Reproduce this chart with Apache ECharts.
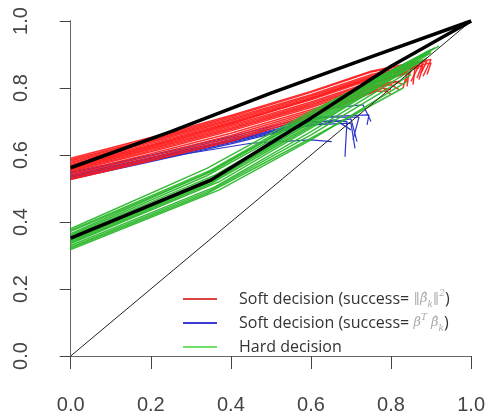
<!DOCTYPE html>
<html><head><meta charset="utf-8">
<script src="https://cdn.jsdelivr.net/npm/echarts@6/dist/echarts.min.js"></script>
<style>html,body{margin:0;padding:0;background:#fff}#c{width:488px;height:418px}</style>
</head><body><div id="c"></div>
<script>
const tickLabels = ['0.0', '0.2', '0.4', '0.6', '0.8', '1.0'];
const legendNames = [
  'Soft decision (success= ‖β̂ₖ‖²)',
  'Soft decision (success= βᵀβ̂ₖ)',
  'Hard decision'
];

// Soft decision (success = ||beta_k||^2) : red curves [x, y]
const redLines = [
  [[0,0.59],[0.2,0.652],[0.4,0.718],[0.6,0.79],[0.75,0.85],[0.85,0.875],[0.9,0.885],[0.88,0.835]],
  [[0,0.586],[0.2,0.648],[0.4,0.714],[0.6,0.787],[0.75,0.848],[0.89,0.88],[0.875,0.845]],
  [[0,0.582],[0.2,0.645],[0.4,0.71],[0.6,0.78],[0.75,0.84],[0.88,0.875],[0.865,0.83]],
  [[0,0.578],[0.2,0.642],[0.4,0.706],[0.6,0.776],[0.75,0.836],[0.9,0.875],[0.89,0.84]],
  [[0,0.575],[0.2,0.638],[0.4,0.702],[0.6,0.772],[0.75,0.832],[0.87,0.868],[0.85,0.82]],
  [[0,0.571],[0.2,0.634],[0.4,0.698],[0.6,0.769],[0.75,0.829],[0.88,0.866],[0.87,0.825]],
  [[0,0.568],[0.2,0.63],[0.4,0.695],[0.6,0.765],[0.75,0.825],[0.86,0.862],[0.855,0.81]],
  [[0,0.565],[0.2,0.627],[0.4,0.692],[0.6,0.768],[0.8,0.85],[0.87,0.86]],
  [[0,0.562],[0.2,0.624],[0.4,0.688],[0.6,0.758],[0.75,0.818],[0.85,0.852],[0.835,0.815]],
  [[0,0.559],[0.2,0.62],[0.4,0.684],[0.6,0.754],[0.75,0.814],[0.845,0.848],[0.84,0.805]],
  [[0,0.556],[0.2,0.617],[0.4,0.68],[0.6,0.75],[0.75,0.81],[0.84,0.845],[0.83,0.8]],
  [[0,0.553],[0.2,0.613],[0.4,0.676],[0.6,0.746],[0.73,0.8],[0.81,0.82],[0.83,0.81]],
  [[0,0.55],[0.2,0.61],[0.4,0.672],[0.6,0.742],[0.72,0.79],[0.8,0.81],[0.82,0.795]],
  [[0,0.545],[0.2,0.604],[0.4,0.665],[0.6,0.735],[0.7,0.775],[0.78,0.8],[0.8,0.78]],
  [[0,0.54],[0.2,0.598],[0.4,0.658],[0.6,0.73],[0.7,0.77],[0.76,0.79],[0.79,0.79]],
  [[0,0.535],[0.2,0.592],[0.4,0.652],[0.6,0.725],[0.75,0.8],[0.82,0.82]],
  [[0,0.53],[0.2,0.587],[0.4,0.646],[0.6,0.72],[0.7,0.765],[0.76,0.79]],
  [[0,0.527],[0.2,0.583],[0.4,0.641],[0.6,0.715],[0.7,0.76],[0.78,0.8],[0.8,0.795]]
];

// Soft decision (success = beta^T beta_k) : blue curves [x, y]
const blueLines = [
  [[0,0.548],[0.2,0.6],[0.4,0.655],[0.55,0.7],[0.65,0.74],[0.73,0.75],[0.75,0.7]],
  [[0,0.545],[0.2,0.597],[0.4,0.65],[0.55,0.693],[0.62,0.713],[0.72,0.713],[0.705,0.645]],
  [[0,0.54],[0.2,0.592],[0.4,0.645],[0.55,0.688],[0.6,0.7],[0.69,0.7],[0.685,0.595]],
  [[0,0.537],[0.2,0.59],[0.4,0.642],[0.55,0.685],[0.64,0.715],[0.745,0.72],[0.74,0.69]],
  [[0,0.535],[0.2,0.587],[0.4,0.64],[0.57,0.69],[0.66,0.705],[0.7,0.675]],
  [[0,0.533],[0.27,0.6],[0.45,0.635],[0.6,0.645],[0.652,0.64]],
  [[0,0.53],[0.2,0.583],[0.4,0.637],[0.55,0.68],[0.6,0.69],[0.7,0.695],[0.71,0.62]],
  [[0,0.528],[0.2,0.58],[0.4,0.633],[0.56,0.68],[0.7,0.708],[0.715,0.64]]
];

// Hard decision : green curves [x, y]
const greenLines = [
  [[0,0.38],[0.34,0.56],[0.6,0.73],[0.92,0.925]],
  [[0,0.375],[0.35,0.555],[0.6,0.725],[0.91,0.92]],
  [[0,0.372],[0.35,0.55],[0.6,0.72],[0.9,0.915]],
  [[0,0.365],[0.33,0.54],[0.6,0.715],[0.91,0.92]],
  [[0,0.361],[0.34,0.538],[0.6,0.71],[0.895,0.905]],
  [[0,0.358],[0.36,0.54],[0.6,0.705],[0.88,0.9]],
  [[0,0.35],[0.35,0.53],[0.6,0.695],[0.9,0.905]],
  [[0,0.345],[0.36,0.525],[0.6,0.7],[0.9,0.91]],
  [[0,0.343],[0.34,0.515],[0.6,0.69],[0.87,0.88]],
  [[0,0.339],[0.35,0.515],[0.6,0.685],[0.88,0.885]],
  [[0,0.336],[0.37,0.52],[0.6,0.68],[0.89,0.89]],
  [[0,0.33],[0.36,0.505],[0.6,0.67],[0.86,0.86]],
  [[0,0.325],[0.35,0.495],[0.6,0.66],[0.85,0.84]],
  [[0,0.322],[0.34,0.485],[0.6,0.65],[0.83,0.8]],
  [[0,0.318],[0.37,0.495],[0.6,0.645],[0.84,0.82]]
];

// Thick black reference curves and thin diagonal [x, y]
const upperBlack = [[0,0.562],[0.25,0.67],[0.5,0.785],[0.75,0.893],[1,1]];
const lowerBlack = [[0,0.352],[0.35,0.525],[0.6,0.71],[0.8,0.865],[1,1]];
const diagonal = [[0,0],[1,1]];

const chart = echarts.init(document.getElementById('c'), null, {renderer: 'canvas'});

function bundle(lines, name, color, width, opacity) {
  return lines.map(d => ({
    type: 'line', name: name, data: d, symbol: 'none', showSymbol: false,
    silent: true, animation: false,
    lineStyle: {color: color, width: width, opacity: opacity},
    itemStyle: {color: color}
  }));
}

const series = [].concat(
  bundle(blueLines, legendNames[1], '#2b35c8', 1.2, 1),
  bundle(redLines, legendNames[0], '#ff1a1a', 1.5, 0.9),
  bundle(greenLines, legendNames[2], '#2eb82e', 1.5, 0.95),
  bundle([diagonal], 'diag', '#222', 1, 1),
  bundle([upperBlack, lowerBlack], 'black', '#000', 3.5, 1)
);

const axisColor = '#444';
function fmtTick(v) {
  const i = Math.round(v / 0.2);
  return tickLabels[i] !== undefined ? tickLabels[i] : '';
}

function legendFmt(name) {
  if (name === legendNames[0]) return 'Soft decision (success= {m|‖β̂}{s|k}{m|‖}{sup|2}{t|)}';
  if (name === legendNames[1]) return 'Soft decision (success= {m|β}{sup|T}{m| β̂}{s|k}{t|)}';
  return name;
}

chart.setOption({
  animation: false,
  grid: {left: 70.7, right: 15, top: 21, bottom: 62},
  legend: {
    show: true,
    orient: 'vertical',
    left: 183, top: 289,
    padding: 0,
    icon: 'rect',
    itemWidth: 34, itemHeight: 2,
    itemGap: 4,
    selectedMode: false,
    formatter: legendFmt,
    data: [
      {name: legendNames[0], itemStyle: {color: '#d94444'}},
      {name: legendNames[1], itemStyle: {color: '#3a3ad0'}},
      {name: legendNames[2], itemStyle: {color: '#6ee06e'}}
    ],
    textStyle: {
      fontFamily: 'Open Sans', fontSize: 16, color: '#333', lineHeight: 20,
      padding: [0, 0, 0, 17],
      rich: {
        m: {fontFamily: 'DejaVu Serif', fontStyle: 'italic', fontSize: 13, color: '#aaa', lineHeight: 20},
        s: {fontFamily: 'DejaVu Serif', fontStyle: 'italic', fontSize: 9, color: '#aaa', lineHeight: 12, verticalAlign: 'bottom'},
        sup: {fontFamily: 'DejaVu Serif', fontStyle: 'italic', fontSize: 9, color: '#aaa', lineHeight: 12, verticalAlign: 'top'},
        t: {fontFamily: 'Open Sans', fontSize: 16, color: '#333', lineHeight: 20}
      }
    }
  },
  xAxis: [{
    type: 'value', min: 0, max: 1, interval: 0.2, position: 'bottom', offset: 13,
    axisLine: {show: true, lineStyle: {color: axisColor, width: 1}},
    axisTick: {show: true, length: 13, lineStyle: {color: axisColor, width: 1}},
    axisLabel: {show: true, margin: 26, fontSize: 20, color: axisColor, fontFamily: 'Liberation Sans', formatter: fmtTick, showMinLabel: true, showMaxLabel: true},
    splitLine: {show: false}
  }, {
    type: 'value', min: 0, max: 1, position: 'top',
    axisLine: {show: true, lineStyle: {color: '#666', width: 1}},
    axisTick: {show: false}, axisLabel: {show: false}, splitLine: {show: false}
  }],
  yAxis: [{
    type: 'value', min: 0, max: 1, interval: 0.2, position: 'left', offset: 17.7,
    axisLine: {show: true, lineStyle: {color: axisColor, width: 1}},
    axisTick: {show: true, length: 11, lineStyle: {color: axisColor, width: 1}},
    axisLabel: {show: true, rotate: 90, margin: 22, fontSize: 20, color: axisColor, fontFamily: 'Liberation Sans', formatter: fmtTick, showMinLabel: true, showMaxLabel: true},
    splitLine: {show: false}
  }, {
    type: 'value', min: 0, max: 1, position: 'right',
    axisLine: {show: true, lineStyle: {color: '#666', width: 1}},
    axisTick: {show: false}, axisLabel: {show: false}, splitLine: {show: false}
  }],
  series: series
});
</script>
</body></html>
